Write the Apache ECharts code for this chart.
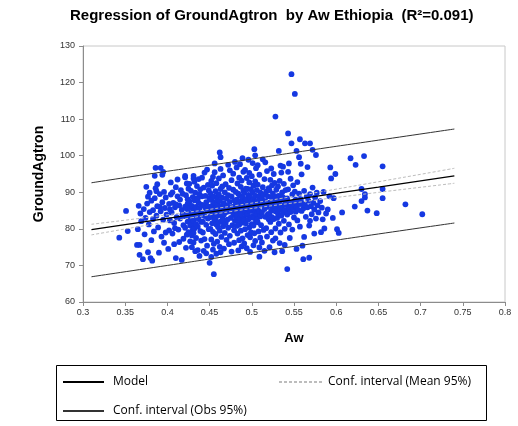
<!DOCTYPE html>
<html><head><meta charset="utf-8">
<script src="https://cdn.jsdelivr.net/npm/echarts@6/dist/echarts.min.js"></script>
<style>html,body{margin:0;padding:0;background:#fff}#c{width:518px;height:426px}</style>
</head><body><div id="c"></div>
<script>
const titleText = 'Regression of GroundAgtron  by Aw Ethiopia  (R\u00b2=0.091)';
const xName = 'Aw';
const yName = 'GroundAgtron';
const legendNames = ['Model', 'Conf. interval (Mean 95%)', 'Conf. interval (Obs 95%)'];

// observations [Aw, GroundAgtron]
const observations = [
[0.343,77.6],[0.351,84.9],[0.353,79.4],[0.364,75.6],[0.367,75.6],[0.365,79.9],[0.367,72.9],[0.371,71.7],[0.368,84.2],[0.366,86.3],[0.369,82.1],
[0.375,91.5],[0.377,88.8],[0.386,91.1],[0.388,92.2],[0.394,94.8],[0.386,96.7],[0.392,96.7],[0.395,95.6],[0.385,94.5],[0.377,73.6],[0.380,72.0],[0.382,71.3],[0.390,73.5],
[0.372,85.4],[0.374,83.0],[0.376,86.9],[0.378,81.2],[0.379,84.6],[0.381,87.7],[0.383,85.1],[0.384,79.3],[0.385,88.4],[0.387,83.6],[0.388,86.2],[0.389,80.4],[0.391,89.5],[0.392,84.8],[0.393,77.9],[0.394,87.3],[0.395,82.5],[0.396,90.1],[0.397,85.7],[0.398,79.0],[0.399,83.9],[0.373,78.5],[0.381,76.9],[0.387,90.3],[0.379,89.9],[0.396,76.2],[0.383,82.7],[0.391,86.0],[0.398,88.6],
[0.401,74.5],[0.410,72.0],[0.417,71.5],[0.410,91.4],[0.421,94.1],[0.423,92.4],[0.402,86.8],[0.403,82.3],[0.404,89.4],[0.405,84.5],[0.406,78.7],[0.407,87.1],[0.408,81.6],[0.409,85.9],[0.411,83.2],[0.412,88.9],[0.413,79.8],[0.414,86.4],[0.415,82.8],[0.416,90.6],[0.418,84.0],[0.419,77.3],[0.404,92.7],[0.408,75.8],[0.412,93.5],[0.415,88.0],[0.417,85.2],[0.419,81.0],[0.402,79.6],[0.406,90.0],[0.410,86.7],[0.414,76.4],[0.418,89.6],[0.420,83.5],[0.403,85.3],[0.409,80.2],
[0.421,94.5],[0.431,94.5],[0.431,93.8],[0.444,95.4],[0.429,75.0],[0.431,76.3],[0.436,74.2],[0.446,73.3],
[0.421,86.1],[0.421,80.3],[0.422,83.7],[0.422,89.2],[0.423,78.4],[0.423,85.5],[0.424,82.0],[0.424,88.1],[0.425,84.4],[0.425,91.0],[0.425,79.1],[0.422,74.8],[0.424,86.9],
[0.426,83.0],[0.426,87.5],[0.427,80.9],[0.427,85.8],[0.428,90.4],[0.428,82.6],[0.429,86.3],[0.429,78.2],[0.430,84.0],[0.430,88.7],[0.427,76.6],[0.426,92.3],[0.429,81.4],[0.430,79.7],
[0.431,85.0],[0.431,82.2],[0.432,87.8],[0.432,80.1],[0.433,84.6],[0.433,89.9],[0.434,77.5],[0.434,86.0],[0.435,83.1],[0.435,91.7],[0.432,92.9],[0.433,73.9],[0.434,81.3],[0.435,88.3],[0.431,78.9],
[0.436,84.8],[0.436,80.6],[0.437,87.1],[0.437,82.7],[0.438,89.5],[0.438,85.6],[0.439,79.4],[0.439,83.8],[0.440,86.6],[0.440,76.8],[0.437,93.6],[0.438,72.6],[0.439,90.8],[0.440,81.9],[0.436,88.2],
[0.441,84.2],[0.441,88.9],[0.442,82.0],[0.442,79.0],[0.443,86.4],[0.443,91.3],[0.444,83.5],[0.444,77.2],[0.445,85.7],[0.445,89.0],[0.446,81.1],[0.446,87.3],[0.447,84.9],[0.447,75.4],[0.448,92.0],[0.448,82.8],[0.449,86.1],[0.449,79.9],[0.450,88.4],[0.450,83.2],[0.441,94.0],[0.443,74.0],[0.447,96.2],[0.449,90.5],
[0.450,70.7],[0.455,67.6],[0.452,72.3],[0.463,73.6],[0.462,100.9],[0.463,99.6],[0.456,97.9],[0.472,97.5],
[0.451,85.3],[0.451,80.0],[0.451,89.7],[0.452,83.6],[0.452,87.9],[0.452,77.1],[0.453,84.7],[0.453,91.8],[0.453,81.5],[0.454,86.6],[0.454,79.2],[0.454,94.2],[0.455,83.0],[0.455,88.8],[0.455,75.9],[0.452,93.1],[0.454,74.3],[0.453,86.0],[0.455,85.5],
[0.456,82.4],[0.456,87.2],[0.457,84.1],[0.457,90.3],[0.457,78.6],[0.458,85.9],[0.458,81.2],[0.458,92.5],[0.459,86.8],[0.459,76.5],[0.460,83.7],[0.460,89.1],[0.460,80.5],[0.456,95.5],[0.458,73.2],[0.459,88.0],[0.457,82.9],
[0.461,85.1],[0.461,81.8],[0.462,87.6],[0.462,79.5],[0.463,84.3],[0.463,90.9],[0.464,86.2],[0.464,77.8],[0.465,83.3],[0.465,88.5],[0.461,93.8],[0.462,75.1],[0.464,82.1],[0.465,91.6],[0.463,96.4],[0.461,89.4],
[0.466,85.8],[0.466,80.7],[0.467,87.0],[0.467,83.9],[0.468,90.0],[0.468,78.9],[0.469,85.2],[0.469,81.6],[0.470,88.3],[0.470,84.6],[0.466,94.6],[0.467,74.6],[0.469,92.2],[0.470,77.0],[0.468,86.5],[0.466,82.4],
[0.471,86.3],[0.471,82.5],[0.472,89.2],[0.472,80.3],[0.473,84.8],[0.473,91.2],[0.474,87.4],[0.474,78.1],[0.475,85.6],[0.475,83.0],[0.476,88.9],[0.476,93.3],[0.477,81.0],[0.477,86.0],[0.478,84.2],[0.478,90.7],[0.479,79.6],[0.479,87.8],[0.480,85.0],[0.480,82.2],[0.473,75.8],[0.476,73.8],[0.478,95.1],[0.480,98.3],[0.474,96.0],[0.479,76.2],
[0.489,99.3],[0.503,101.8],[0.504,100.1],[0.509,72.4],
[0.481,86.7],[0.481,83.4],[0.481,90.1],[0.482,88.0],[0.482,80.8],[0.482,84.9],[0.483,92.4],[0.483,86.1],[0.483,78.7],[0.484,85.3],[0.484,89.6],[0.484,82.0],[0.485,87.2],[0.485,94.0],[0.485,76.9],[0.482,96.8],[0.484,74.1],[0.483,83.7],[0.485,81.1],
[0.486,85.9],[0.486,89.0],[0.486,82.8],[0.487,87.5],[0.487,91.5],[0.487,79.5],[0.488,84.4],[0.488,86.9],[0.488,93.2],[0.489,81.7],[0.489,88.5],[0.489,77.4],[0.490,85.1],[0.490,90.4],[0.490,83.0],[0.486,97.7],[0.488,75.2],[0.490,95.6],[0.487,84.0],
[0.491,86.4],[0.491,82.3],[0.491,89.8],[0.492,87.9],[0.492,84.6],[0.492,79.9],[0.493,91.0],[0.493,85.7],[0.493,81.5],[0.494,88.2],[0.494,83.8],[0.494,93.9],[0.495,86.8],[0.495,78.3],[0.495,90.9],[0.492,96.1],[0.494,74.7],[0.491,76.0],[0.493,88.0],[0.495,84.1],
[0.496,85.4],[0.496,89.3],[0.496,82.6],[0.497,87.0],[0.497,92.7],[0.497,80.4],[0.498,84.9],[0.498,88.6],[0.498,77.7],[0.499,86.2],[0.499,90.8],[0.499,83.1],[0.500,87.7],[0.500,94.4],[0.500,81.3],[0.496,98.9],[0.498,73.7],[0.500,85.0],[0.497,95.3],[0.499,79.0],
[0.501,86.5],[0.501,89.9],[0.501,83.5],[0.502,88.1],[0.502,91.8],[0.502,80.9],[0.503,85.2],[0.503,87.3],[0.503,78.8],[0.504,84.3],[0.504,93.0],[0.504,89.1],[0.505,86.0],[0.505,82.1],[0.505,96.6],[0.502,75.5],[0.504,76.7],[0.501,98.0],[0.503,83.0],
[0.506,87.4],[0.506,84.0],[0.506,90.6],[0.507,85.8],[0.507,92.1],[0.507,81.8],[0.508,88.8],[0.508,86.3],[0.508,79.3],[0.509,84.7],[0.509,94.8],[0.509,87.9],[0.510,83.4],[0.510,90.0],[0.510,77.6],[0.507,97.4],[0.509,74.9],[0.506,82.5],
[0.511,86.9],[0.511,81.0],[0.512,88.4],[0.512,84.5],[0.513,91.4],[0.513,86.6],[0.514,79.7],[0.514,89.3],[0.515,85.4],[0.515,93.6],[0.516,83.3],[0.516,87.6],[0.517,90.2],[0.517,80.2],[0.518,86.0],[0.518,95.8],[0.519,84.0],[0.519,88.9],[0.520,82.6],[0.520,91.1],[0.512,76.3],[0.515,74.0],[0.518,77.9],[0.513,99.0],[0.516,98.2],[0.520,86.8],
[0.527,73.6],[0.536,73.9],[0.542,69.0],[0.528,110.7],[0.543,106.1],[0.547,103.4],[0.547,122.3],[0.551,116.9],[0.532,101.3],[0.534,97.3],[0.544,97.9],
[0.521,87.2],[0.521,84.1],[0.521,90.5],[0.522,86.4],[0.522,81.9],[0.522,93.4],[0.523,88.7],[0.523,85.0],[0.523,79.1],[0.524,87.0],[0.524,83.2],[0.524,91.9],[0.525,85.9],[0.525,89.6],[0.525,76.8],[0.523,96.5],[0.521,75.0],
[0.526,86.1],[0.526,82.7],[0.527,88.2],[0.527,92.6],[0.528,84.8],[0.528,80.1],[0.529,87.4],[0.529,90.7],[0.530,85.6],[0.530,83.0],[0.526,95.0],[0.528,77.4],[0.530,88.9],[0.527,86.3],
[0.531,86.9],[0.531,84.2],[0.532,89.0],[0.532,81.4],[0.533,87.6],[0.533,93.1],[0.534,85.3],[0.534,79.0],[0.535,88.0],[0.535,83.6],[0.531,91.6],[0.533,76.1],[0.535,95.4],[0.532,86.6],
[0.536,86.2],[0.536,90.0],[0.537,84.4],[0.537,88.6],[0.538,82.2],[0.538,92.3],[0.539,86.7],[0.539,80.0],[0.540,87.9],[0.540,85.1],[0.537,97.0],[0.539,75.6],[0.540,90.6],
[0.541,86.5],[0.542,88.3],[0.542,83.9],[0.543,90.8],[0.544,85.7],[0.544,81.2],[0.545,87.2],[0.546,93.7],[0.546,84.6],[0.547,86.9],[0.548,89.4],[0.548,79.8],[0.549,85.8],[0.550,87.5],[0.550,83.1],[0.545,77.5],[0.549,91.9],[0.543,95.6],
[0.553,74.5],[0.561,71.7],[0.568,72.1],[0.557,104.5],[0.563,103.4],[0.569,103.4],[0.572,101.6],[0.576,100.2],[0.553,101.3],[0.556,99.6],[0.569,82.2],
[0.551,86.4],[0.551,90.2],[0.552,84.7],[0.552,88.0],[0.553,86.0],[0.554,82.3],[0.554,92.8],[0.555,87.3],[0.555,85.2],[0.556,89.6],[0.557,86.8],[0.557,80.6],[0.558,88.1],[0.559,84.9],[0.559,94.9],[0.560,87.0],[0.561,85.6],[0.562,90.4],[0.562,77.8],[0.563,86.5],[0.564,83.3],[0.565,88.8],[0.566,85.9],[0.566,96.9],[0.567,87.7],[0.568,80.9],[0.569,89.5],[0.570,86.2],[0.571,84.0],[0.572,91.3],[0.573,87.1],[0.574,85.3],[0.575,88.6],[0.576,82.8],[0.577,89.9],[0.578,86.4],[0.579,84.5],[0.560,75.4],[0.574,78.7],[0.558,97.8],
[0.586,80.1],[0.582,79.1],[0.590,85.3],[0.597,88.4],[0.594,93.8],[0.599,95.0],[0.593,96.8],[0.601,79.9],[0.603,78.9],[0.607,84.5],[0.581,87.6],[0.583,85.8],[0.585,90.1],[0.588,84.2],[0.592,88.9],[0.584,82.6],[0.617,99.3],[0.596,83.0],
[0.622,86.1],[0.623,97.5],[0.630,90.9],[0.630,87.6],[0.633,99.9],[0.634,89.5],[0.634,88.6],[0.637,85.0],[0.648,84.3],[0.655,97.1],[0.655,90.9],[0.655,88.4],[0.682,86.7],[0.702,84.0]
];

// regression curves, read at these Aw values
const curveAw      = [0.31, 0.40, 0.48, 0.56, 0.65, 0.74];
const modelFit     = [79.80, 82.88, 85.62, 88.35, 91.43, 94.51];
const meanUpper    = [81.25, 83.83, 86.34, 89.30, 92.88, 96.56];
const meanLower    = [78.35, 81.93, 84.90, 87.40, 89.98, 92.46];
const obsUpper     = [92.60, 95.75, 98.40, 101.20, 104.25, 107.30];
const obsLower     = [66.90, 70.00, 72.80, 75.55, 78.60, 81.60];

const xTicks = {min: 0.3, max: 0.8, interval: 0.05};
const yTicks = {min: 60, max: 130, interval: 10};

const pair = (xs, ys) => xs.map((x, i) => [x, ys[i]]);

const chart = echarts.init(document.getElementById('c'), null, {renderer: 'canvas'});
const lblFont = {fontFamily: 'Liberation Sans, Arial, sans-serif', fontSize: 9, color: '#333'};
const legendText = {fontFamily: 'Open Sans, sans-serif', fontSize: 12, color: '#000'};
chart.setOption({
  animation: false,
  backgroundColor: '#fff',
  title: {
    text: titleText, left: 70, top: 8, padding: 0,
    textStyle: {fontFamily: 'Liberation Sans, Arial, sans-serif', fontWeight: 'bold', fontSize: 15, color: '#000'}
  },
  grid: {left: 83, right: 13, top: 46, bottom: 124, show: true, borderColor: '#c8c8c8', borderWidth: 1},
  xAxis: {
    type: 'value', min: xTicks.min, max: xTicks.max, interval: xTicks.interval,
    name: xName, nameLocation: 'middle', nameGap: 30,
    nameTextStyle: {fontFamily: 'Liberation Sans, Arial, sans-serif', fontWeight: 'bold', fontSize: 13, color: '#000'},
    axisLine: {lineStyle: {color: '#8c8c8c'}},
    axisTick: {show: true, length: 4, lineStyle: {color: '#8c8c8c'}},
    axisLabel: Object.assign({margin: 6}, lblFont),
    splitLine: {show: false}
  },
  yAxis: {
    type: 'value', min: yTicks.min, max: yTicks.max, interval: yTicks.interval,
    name: yName, nameLocation: 'middle', nameGap: 37, nameRotate: 90,
    nameTextStyle: {fontFamily: 'Liberation Sans, Arial, sans-serif', fontWeight: 'bold', fontSize: 14, color: '#000'},
    axisLine: {show: true, lineStyle: {color: '#8c8c8c'}},
    axisTick: {show: true, length: 4, lineStyle: {color: '#8c8c8c'}},
    axisLabel: Object.assign({margin: 8}, lblFont),
    splitLine: {show: false}
  },
  legend: [
    {
      data: [legendNames[0], legendNames[2]], orient: 'vertical', left: 62, top: 376, padding: 0,
      itemWidth: 41, itemHeight: 14, itemGap: 17, selectedMode: false,
      itemStyle: {opacity: 0},
      textStyle: Object.assign({padding: [0, 0, 0, 4]}, legendText)
    },
    {
      data: [legendNames[1]], orient: 'vertical', left: 278, top: 376, padding: 0,
      itemWidth: 44, itemHeight: 14, selectedMode: false,
      itemStyle: {opacity: 0},
      textStyle: Object.assign({padding: [0, 0, 0, 0]}, legendText)
    }
  ],
  graphic: [{
    type: 'rect', shape: {x: 56.5, y: 365.5, width: 430, height: 55},
    style: {fill: 'none', stroke: '#000', lineWidth: 1}, z: 100
  }],
  series: [
    {
      type: 'scatter', data: observations, symbol: 'circle', symbolSize: 5.8,
      itemStyle: {color: '#1538e2', opacity: 1}, z: 2
    },
    {
      name: legendNames[0], type: 'line', data: pair(curveAw, modelFit), symbol: 'none', smooth: true,
      lineStyle: {color: '#000', width: 1.3}, itemStyle: {color: '#000'}, z: 5
    },
    {
      name: legendNames[1], type: 'line', data: pair(curveAw, meanUpper), symbol: 'none', smooth: true,
      lineStyle: {color: '#bdbdbd', width: 1, type: [3, 2]}, itemStyle: {color: '#bdbdbd'}, z: 4
    },
    {
      name: legendNames[1], type: 'line', data: pair(curveAw, meanLower), symbol: 'none', smooth: true,
      lineStyle: {color: '#bdbdbd', width: 1, type: [3, 2]}, itemStyle: {color: '#bdbdbd'}, z: 4
    },
    {
      name: legendNames[2], type: 'line', data: pair(curveAw, obsUpper), symbol: 'none', smooth: true,
      lineStyle: {color: '#333', width: 1}, itemStyle: {color: '#333'}, z: 4
    },
    {
      name: legendNames[2], type: 'line', data: pair(curveAw, obsLower), symbol: 'none', smooth: true,
      lineStyle: {color: '#333', width: 1}, itemStyle: {color: '#333'}, z: 4
    }
  ]
});
</script>
</body></html>
